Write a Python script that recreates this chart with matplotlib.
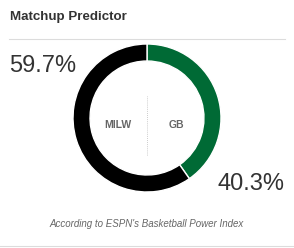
import matplotlib
matplotlib.use("Agg")
import matplotlib.pyplot as plt
from matplotlib.lines import Line2D

teams = ["GB", "MILW"]
probs = [40.3, 59.7]
colors = ["#006a35", "#000000"]
title = "Matchup Predictor"
footer = "According to ESPN's Basketball Power Index"

W, H = 294, 248
fig = plt.figure(figsize=(W / 100, H / 100), dpi=100)
fig.patch.set_facecolor("white")

def fx(x): return x / W
def fy(y): return 1 - y / H

fig.text(fx(10), fy(17), title, fontsize=9.6, fontweight="bold", color="#333333",
         ha="left", va="center", family="Liberation Sans")
fig.add_artist(Line2D([fx(9), fx(285)], [fy(39), fy(39)], color="#dcdcdc", lw=0.8))
fig.add_artist(Line2D([fx(0), fx(294)], [fy(246), fy(246)], color="#dcdcdc", lw=0.8))

# donut
cx, cy, r = 147, 118, 74
ax = fig.add_axes([fx(cx - r), fy(cy + r), 2 * r / W, 2 * r / H])
ax.pie(probs, colors=colors, startangle=90, counterclock=False,
       wedgeprops=dict(width=0.23, edgecolor="white", linewidth=1.0))
ax.set_aspect("equal")
ax.set_xlim(-1, 1)
ax.set_ylim(-1, 1)
ax.axis("off")
ax.plot([0, 0], [-0.5, 0.3], color="#bbbbbb", lw=0.6, ls=(0, (1, 1.5)))
ax.text(-0.4, -0.09, teams[1], fontsize=7.5, fontweight="bold", color="#666666",
        ha="center", va="center", family="Liberation Sans")
ax.text(0.4, -0.09, teams[0], fontsize=7.5, fontweight="bold", color="#666666",
        ha="center", va="center", family="Liberation Sans")

fig.text(fx(9), fy(66), f"{probs[1]}%", fontsize=17, color="#333333",
         ha="left", va="center", family="Liberation Sans")
fig.text(fx(284), fy(184), f"{probs[0]}%", fontsize=17, color="#333333",
         ha="right", va="center", family="Liberation Sans")
fig.text(fx(147), fy(224), footer, fontsize=7, style="italic", color="#666666",
         ha="center", va="center", family="Liberation Sans")

fig.savefig("out.png", dpi=100)
